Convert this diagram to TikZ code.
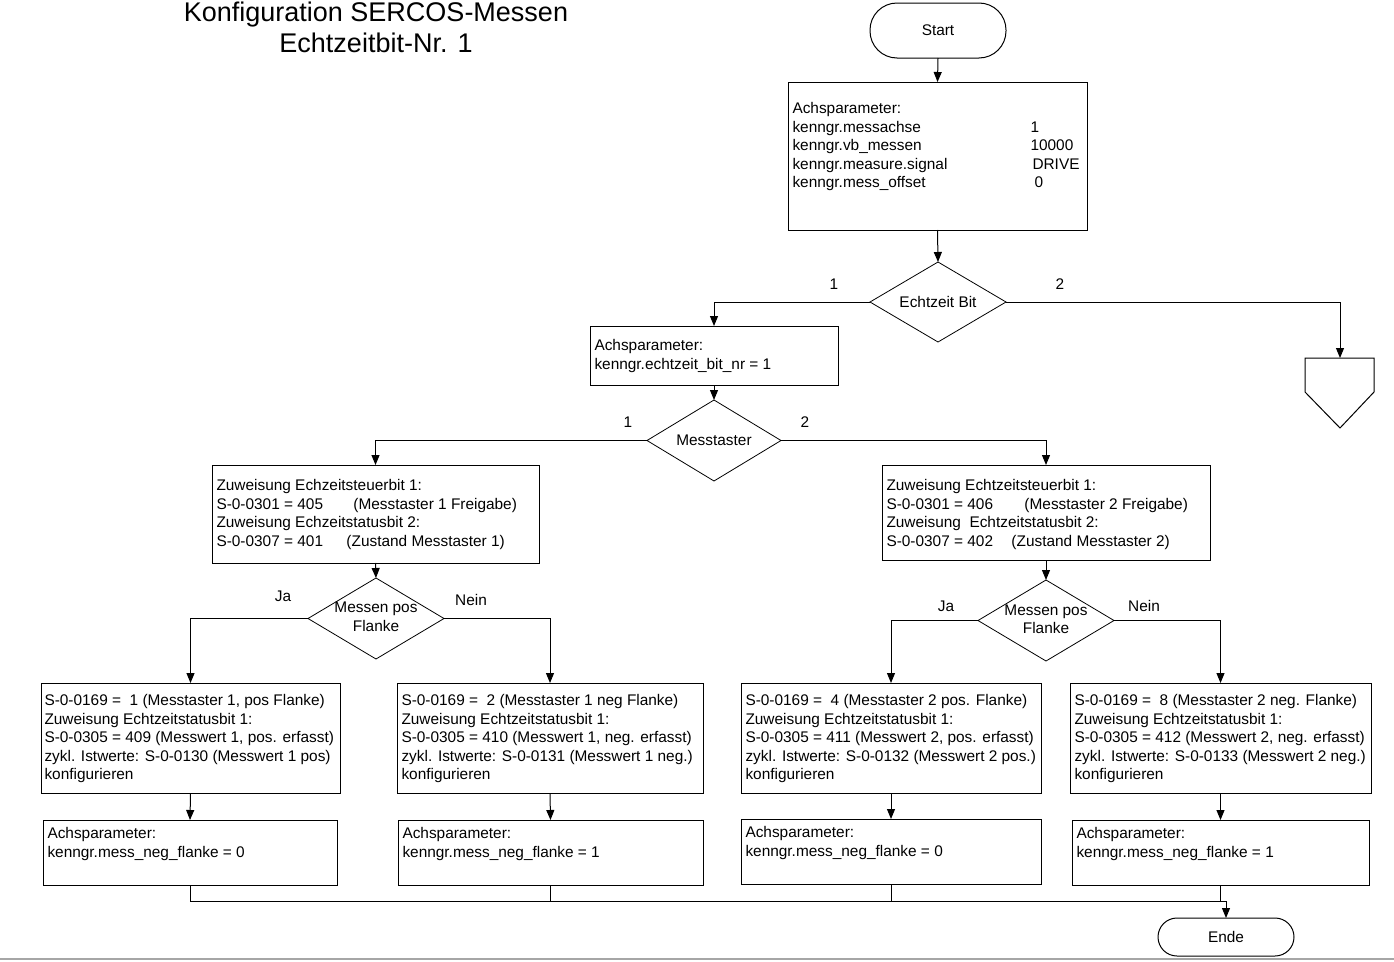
\documentclass[tikz,border=0pt]{standalone}
\usepackage{fontspec}
\setmainfont{Liberation Sans}
\usetikzlibrary{arrows.meta,shapes.geometric}
\begin{document}
\begin{tikzpicture}[x=1pt,y=-1pt,
  line width=1pt,
  arr/.style={-{Triangle[length=10pt,width=8pt]}},
  box/.style={draw, rectangle, anchor=north west, inner sep=0pt, outer sep=0pt},
  txt/.style={anchor=north west, inner sep=0pt, align=left, font=\fontsize{15.4}{18.5}\selectfont},
  lbl/.style={inner sep=0pt, align=center, font=\fontsize{15.4}{18.5}\selectfont},
  dia/.style={draw, diamond, inner sep=0pt, outer sep=0pt, line width=0.8pt},
  term/.style={draw, rectangle, inner sep=0pt, outer sep=0pt, font=\fontsize{15.4}{18.5}\selectfont}
]
\useasboundingbox (0,0) rectangle (1394,961);

% title
\node[inner sep=0pt, align=center, font=\fontsize{27}{31}\selectfont] (title) at (376,27.5) {Konfiguration SERCOS-Messen\\Echtzeitbit-Nr. 1};

% start
\node[term, minimum width=136pt, minimum height=55pt, rounded corners=27pt] (start) at (938,30.5) {Start};

% first parameter box
\node[box, minimum width=299pt, minimum height=148pt] (a1) at (788,82) {};
\node[txt] (a1t) at (792,102) {Achsparameter:\\
\makebox[238pt][l]{kenngr.messachse}1\\
\makebox[238pt][l]{kenngr.vb\_messen}10000\\
\makebox[240pt][l]{kenngr.measure.signal}DRIVE\\
\makebox[242pt][l]{kenngr.mess\_offset}0};

% decision Echtzeit Bit
\node[dia, minimum width=136pt, minimum height=80pt] (d1) at (938,302) {};
\node[lbl] (d1t) at (d1.center) {Echtzeit Bit};

% off-page connector
\coordinate (off) at (1340,358);
\draw (1305,358) -- (1374,358) -- (1374,392) -- (1340,428) -- (1305,392) -- cycle;

% echtzeit bit box
\node[box, minimum width=248pt, minimum height=59pt] (a2) at (590,326) {};
\node[txt] (a2t) at (594,339) {Achsparameter:\\kenngr.echtzeit\_bit\_nr = 1};

% decision Messtaster
\node[dia, minimum width=134pt, minimum height=81pt] (d2) at (714,440.5) {};
\node[lbl] (d2t) at (d2.center) {Messtaster};

% Zuweisung boxes
\node[box, minimum width=327pt, minimum height=98pt] (z1) at (212,465) {};
\node[txt] (z1t) at (216,479) {Zuweisung Echzeitsteuerbit 1:\\
\makebox[137pt][l]{S-0-0301 = 405}(Messtaster 1 Freigabe)\\
Zuweisung Echzeitstatusbit 2:\\
\makebox[130pt][l]{S-0-0307 = 401}(Zustand Messtaster 1)};

\node[box, minimum width=328pt, minimum height=95pt] (z2) at (882,465) {};
\node[txt] (z2t) at (886,479) {Zuweisung Echtzeitsteuerbit 1:\\
\makebox[138pt][l]{S-0-0301 = 406}(Messtaster 2 Freigabe)\\
Zuweisung\ \ Echtzeitstatusbit 2:\\
\makebox[125pt][l]{S-0-0307 = 402}(Zustand Messtaster 2)};

% decisions Messen pos Flanke
\node[dia, minimum width=136pt, minimum height=81pt] (d3) at (376,618.5) {};
\node[lbl] (d3t) at (376,617) {Messen pos\\Flanke};
\node[dia, minimum width=136pt, minimum height=81pt] (d4) at (1046,620.5) {};
\node[lbl] (d4t) at (1046,619.5) {Messen pos\\Flanke};

% row of configuration boxes
\node[box, minimum width=299pt, minimum height=110pt] (b1) at (41,683) {};
\node[txt] (b1t) at (44,694) {S-0-0169 =\ \ 1 (Messtaster 1, pos Flanke)\\
Zuweisung Echtzeitstatusbit 1:\\
S-0-0305 = 409 (Messwert 1, pos. erfasst)\\
zykl. Istwerte: S-0-0130 (Messwert 1 pos)\\
konfigurieren};

\node[box, minimum width=306pt, minimum height=110pt] (b2) at (397,683) {};
\node[txt] (b2t) at (401,694) {S-0-0169 =\ \ 2 (Messtaster 1 neg Flanke)\\
Zuweisung Echtzeitstatusbit 1:\\
S-0-0305 = 410 (Messwert 1, neg. erfasst)\\
zykl. Istwerte: S-0-0131 (Messwert 1 neg.)\\
konfigurieren};

\node[box, minimum width=300pt, minimum height=110pt] (b3) at (741,683) {};
\node[txt] (b3t) at (745,694) {S-0-0169 =\ \ 4 (Messtaster 2 pos. Flanke)\\
Zuweisung Echtzeitstatusbit 1:\\
S-0-0305 = 411 (Messwert 2, pos. erfasst)\\
zykl. Istwerte: S-0-0132 (Messwert 2 pos.)\\
konfigurieren};

\node[box, minimum width=301pt, minimum height=110pt] (b4) at (1070,683) {};
\node[txt] (b4t) at (1074,694) {S-0-0169 =\ \ 8 (Messtaster 2 neg. Flanke)\\
Zuweisung Echtzeitstatusbit 1:\\
S-0-0305 = 412 (Messwert 2, neg. erfasst)\\
zykl. Istwerte: S-0-0133 (Messwert 2 neg.)\\
konfigurieren};

% row of parameter boxes
\node[box, minimum width=294pt, minimum height=65pt] (c1) at (43,820) {};
\node[txt] (c1t) at (47,827) {Achsparameter:\\kenngr.mess\_neg\_flanke = 0};
\node[box, minimum width=305pt, minimum height=65pt] (c2) at (398,820) {};
\node[txt] (c2t) at (402,827) {Achsparameter:\\kenngr.mess\_neg\_flanke = 1};
\node[box, minimum width=300pt, minimum height=65pt] (c3) at (741,819) {};
\node[txt] (c3t) at (745,826) {Achsparameter:\\kenngr.mess\_neg\_flanke = 0};
\node[box, minimum width=297pt, minimum height=65pt] (c4) at (1072,820) {};
\node[txt] (c4t) at (1076,827) {Achsparameter:\\kenngr.mess\_neg\_flanke = 1};

% end
\node[term, minimum width=136pt, minimum height=38pt, rounded corners=19pt] (ende) at (1226,937) {Ende};

% connectors
\draw[arr] (start.south) -- (a1.north);
\draw[arr] (a1.south) -- (d1.north);
\draw[arr] (d1.west) -| (a2.north);
\draw[arr] (d1.east) -| (off);
\draw[arr] (a2.south) -- (d2.north);
\draw[arr] (d2.west) -| (z1.north);
\draw[arr] (d2.east) -| (z2.north);
\draw[arr] (z1.south) -- (d3.north);
\draw[arr] (z2.south) -- (d4.north);
\draw[arr] (d3.west) -| (b1.north);
\draw[arr] (d3.east) -| (b2.north);
\draw[arr] (d4.west) -| (b3.north);
\draw[arr] (d4.east) -| (b4.north);
\draw[arr] (b1.south) -- (c1.north);
\draw[arr] (b2.south) -- (c2.north);
\draw[arr] (b3.south) -- (c3.north);
\draw[arr] (b4.south) -- (c4.north);

\coordinate (m) at (1226,901);
\draw (c1.south) |- (m);
\draw (c2.south) -- (c2.south |- m);
\draw (c3.south) -- (c3.south |- m);
\draw (c4.south) -- (c4.south |- m);
\draw[arr] (m) -- (ende.north);

% branch labels
\node[lbl] (l1) at (834,284) {1};
\node[lbl] (l2) at (1060,284) {2};
\node[lbl] (l3) at (628,422) {1};
\node[lbl] (l4) at (805,422) {2};
\node[lbl] (l5) at (283,596) {Ja};
\node[lbl] (l6) at (471,600) {Nein};
\node[lbl] (l7) at (946,606) {Ja};
\node[lbl] (l8) at (1144,606) {Nein};

% bottom page edge
\draw[gray!70, line width=2pt] (0,959) -- (1394,959);
\end{tikzpicture}
\end{document}
